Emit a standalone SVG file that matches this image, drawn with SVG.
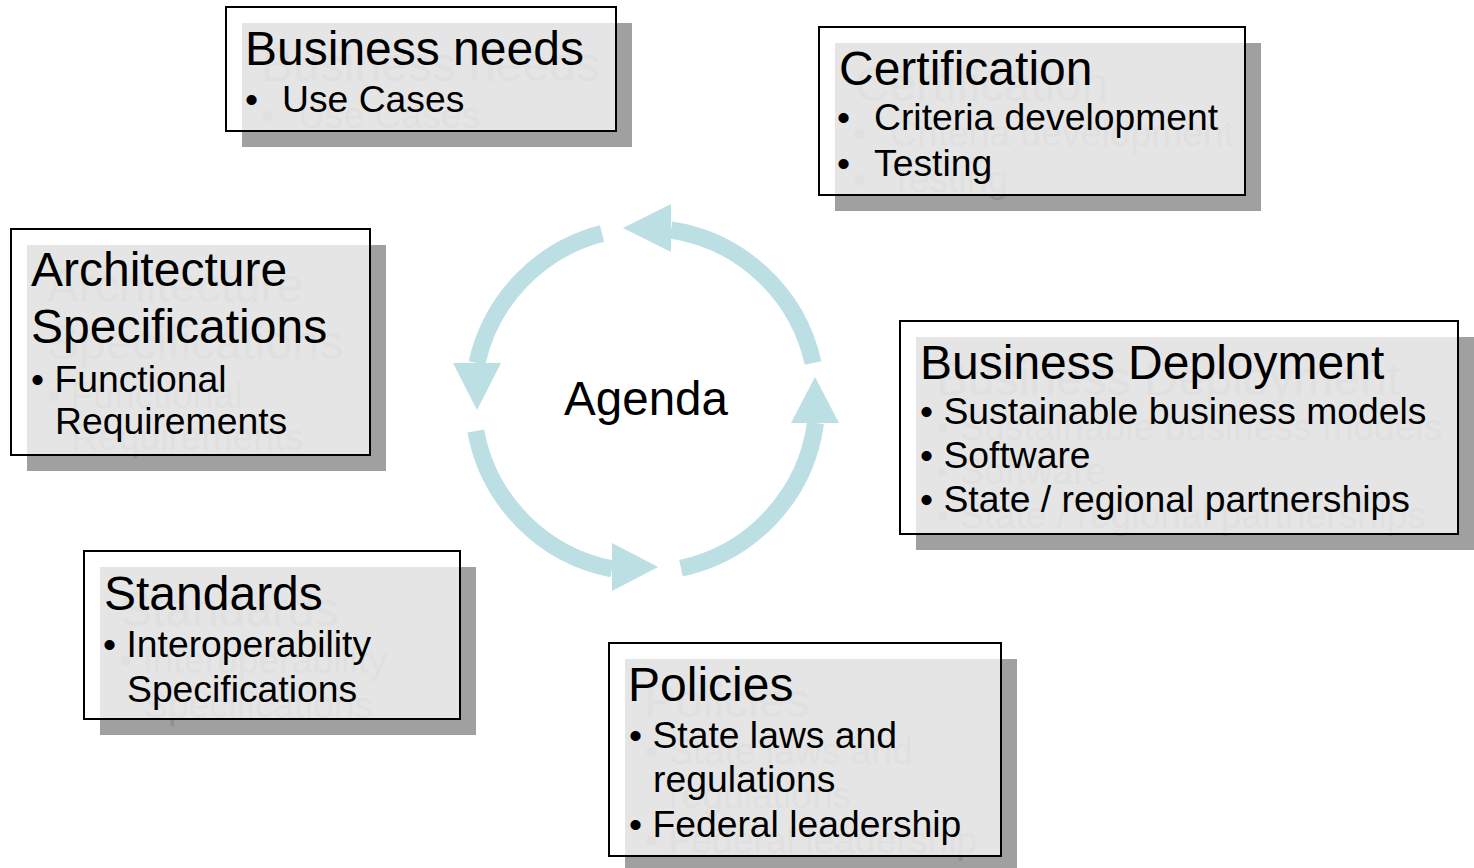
<svg xmlns="http://www.w3.org/2000/svg" xmlns:xlink="http://www.w3.org/1999/xlink" width="1474" height="868" viewBox="0 0 1474 868">
<style>
text{font-family:"Liberation Sans",Arial,sans-serif;}
.t{font-size:48px;}
.b{font-size:37.3px;}
.ag{font-size:47.5px;}
.shr{fill:#a0a0a0;}
.box{fill:#fff;fill-opacity:0.72;stroke:#000;stroke-width:2;}
.sht{opacity:0.1;}
.ring{fill:none;stroke:#bbdfe3;stroke-width:17;}
.head{fill:#bbdfe3;}
</style>
<rect width="1474" height="868" fill="#fff"/>
<g id="connectors">
<path class="ring" d="M 813 363 A 172 172 0 0 0 671 230"/>
<polygon class="head" points="623,228 671,204 671,252"/>
<path class="ring" d="M 602 233.5 A 172 172 0 0 0 477 363"/>
<polygon class="head" points="453,363 501,363 477,410"/>
<path class="ring" d="M 475.8 431 A 172 172 0 0 0 612 568.8"/>
<polygon class="head" points="612,543 612,591 658,567"/>
<path class="ring" d="M 681 568.2 A 172 172 0 0 0 815.5 423"/>
<polygon class="head" points="791,423 839,423 815,377"/>
</g>
<g id="agenda">
<text class="ag" x="646" y="415" text-anchor="middle">Agenda</text>
</g>
<g id="business-needs">
<rect class="shr" x="242" y="23" width="390" height="124"/>
<use xlink:href="#t-bn" x="16" y="16" class="sht"/>
<rect class="box" x="226" y="7" width="390" height="124"/>
<g id="t-bn">
<text class="t" x="245" y="65">Business needs</text>
<text class="b" x="245" y="112">•</text>
<text class="b" x="282" y="112">Use Cases</text>
</g>
</g>
<g id="certification">
<rect class="shr" x="835" y="43" width="426" height="168"/>
<use xlink:href="#t-ce" x="16" y="16" class="sht"/>
<rect class="box" x="819" y="27" width="426" height="168"/>
<g id="t-ce">
<text class="t" x="839" y="85">Certification</text>
<text class="b" x="837" y="130">•</text>
<text class="b" x="874" y="130">Criteria development</text>
<text class="b" x="837" y="176">•</text>
<text class="b" x="874" y="176">Testing</text>
</g>
</g>
<g id="architecture">
<rect class="shr" x="27" y="245" width="359" height="226"/>
<use xlink:href="#t-ar" x="16" y="16" class="sht"/>
<rect class="box" x="11" y="229" width="359" height="226"/>
<g id="t-ar">
<text class="t" x="31" y="286">Architecture</text>
<text class="t" x="31" y="343">Specifications</text>
<text class="b" x="31" y="392">• Functional</text>
<text class="b" x="55" y="434">Requirements</text>
</g>
</g>
<g id="business-deployment">
<rect class="shr" x="916" y="337" width="558" height="213"/>
<use xlink:href="#t-bd" x="16" y="16" class="sht"/>
<rect class="box" x="900" y="321" width="558" height="213"/>
<g id="t-bd">
<text class="t" x="920" y="379">Business Deployment</text>
<text class="b" x="920" y="424">• Sustainable business models</text>
<text class="b" x="920" y="468">• Software</text>
<text class="b" x="920" y="512">• State / regional partnerships</text>
</g>
</g>
<g id="standards">
<rect class="shr" x="100" y="567" width="376" height="168"/>
<use xlink:href="#t-st" x="16" y="16" class="sht"/>
<rect class="box" x="84" y="551" width="376" height="168"/>
<g id="t-st">
<text class="t" x="104" y="610">Standards</text>
<text class="b" x="103" y="657">• Interoperability</text>
<text class="b" x="127" y="702">Specifications</text>
</g>
</g>
<g id="policies">
<rect class="shr" x="625" y="659" width="392" height="213"/>
<use xlink:href="#t-po" x="16" y="16" class="sht"/>
<rect class="box" x="609" y="643" width="392" height="213"/>
<g id="t-po">
<text class="t" x="628" y="701">Policies</text>
<text class="b" x="629" y="748">• State laws and</text>
<text class="b" x="653" y="792">regulations</text>
<text class="b" x="629" y="837">• Federal leadership</text>
</g>
</g>
</svg>
